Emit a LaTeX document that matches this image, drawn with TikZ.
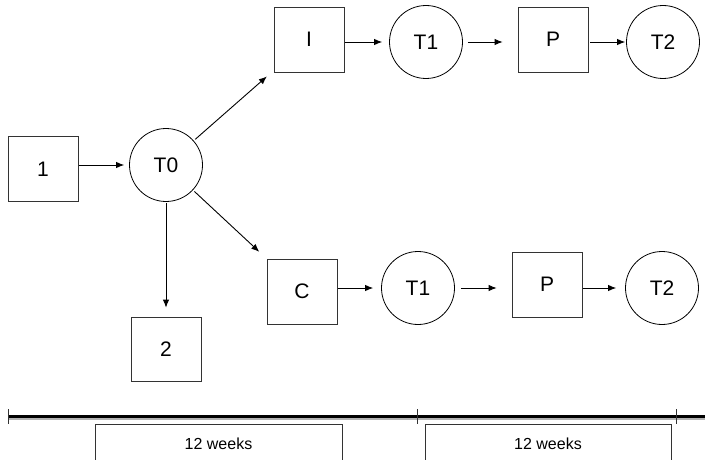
\documentclass[tikz,border=0pt]{standalone}
\usepackage{fontspec}
\setmainfont{Liberation Sans}
\usetikzlibrary{arrows.meta}
\begin{document}
\begin{tikzpicture}[x=1pt,y=-1pt,
  sq/.style={draw=black!80, line width=0.8pt, minimum width=70pt, minimum height=65pt, inner sep=0pt, font=\fontsize{21}{25}\selectfont},
  circ/.style={draw, circle, line width=0.8pt, minimum size=73pt, inner sep=0pt, font=\fontsize{21}{25}\selectfont},
  arr/.style={-{Latex[length=8pt,width=6.5pt]}, line width=0.9pt},
  wk/.style={font=\fontsize{16}{19}\selectfont, inner sep=0pt},
  tick/.style={line width=0.9pt, black!80},
]
\useasboundingbox (0,0) rectangle (705,460);
% nodes
\node[sq]   (b1)  at (43,169)   {1};
\node[circ] (T0)  at (166,165)  {T0};
\node[sq]   (I)   at (309,39.5) {I};
\node[circ] (T1a) at (426,42)   {T1};
\node[sq]   (Pa)  at (553,39.5) {P};
\node[circ] (T2a) at (663,42)   {T2};
\node[sq, minimum height=64pt] (b2) at (166,349) {2};
\node[sq]   (C)   at (302,291.5) {C};
\node[circ] (T1b) at (418,288)  {T1};
\node[sq]   (Pb)  at (547,284.5) {P};
\node[circ] (T2b) at (662,288)  {T2};
% connectors
\draw[arr, shorten <=1pt, shorten >=5pt] (b1.east |- T0.west) -- (T0.west);
\draw[arr, shorten <=2pt, shorten >=9pt] (T0) -- (I);
\draw[arr, shorten <=2pt, shorten >=10pt] (T0) -- (C);
\draw[arr, shorten <=1pt, shorten >=9pt] (T0.south) -- (T0.south |- b2.north);
\draw[arr, shorten <=1pt, shorten >=7pt] (I.east |- T1a.west) -- (T1a.west);
\draw[arr, shorten <=5pt, shorten >=15pt] (T1a.east) -- (T1a.east -| Pa.west);
\draw[arr, shorten <=2pt, shorten >=1pt] (Pa.east |- T2a.west) -- (T2a.west);
\draw[arr, shorten <=1pt, shorten >=8pt] (C.east |- T1b.west) -- (T1b.west);
\draw[arr, shorten <=6pt, shorten >=15pt] (T1b.east) -- (T1b.east -| Pb.west);
\draw[arr, shorten <=1pt, shorten >=9pt] (Pb.east |- T2b.west) -- (T2b.west);
% timeline
\coordinate (tl0) at (8,416.8);
\coordinate (tl1) at (417,416.8);
\coordinate (tl2) at (676.5,416.8);
\coordinate (tlend) at (705,416.8);
\draw[gray!60, line width=1.5pt] ([yshift=-2pt]tl0) -- ([yshift=-2pt]tlend);
\draw[line width=3pt] (tl0) -- (tlend);
\draw[tick] ([yshift=-7pt]tl0) -- ([yshift=7.5pt]tl0);
\draw[tick] ([yshift=-7pt]tl1) -- ([yshift=7.5pt]tl1);
\draw[tick] ([yshift=-7pt]tl2) -- ([yshift=7.5pt]tl2);
% 12 weeks boxes (cut by the bottom edge)
\draw[black!80, line width=0.8pt] (95,470) -- (95,424) -- (342,424) -- (342,470);
\draw[black!80, line width=0.8pt] (425,470) -- (425,424) -- (671,424) -- (671,470);
\node[wk] (w1) at (218.5,443.5) {12 weeks};
\node[wk] (w2) at (548,443.5) {12 weeks};
\end{tikzpicture}
\end{document}
